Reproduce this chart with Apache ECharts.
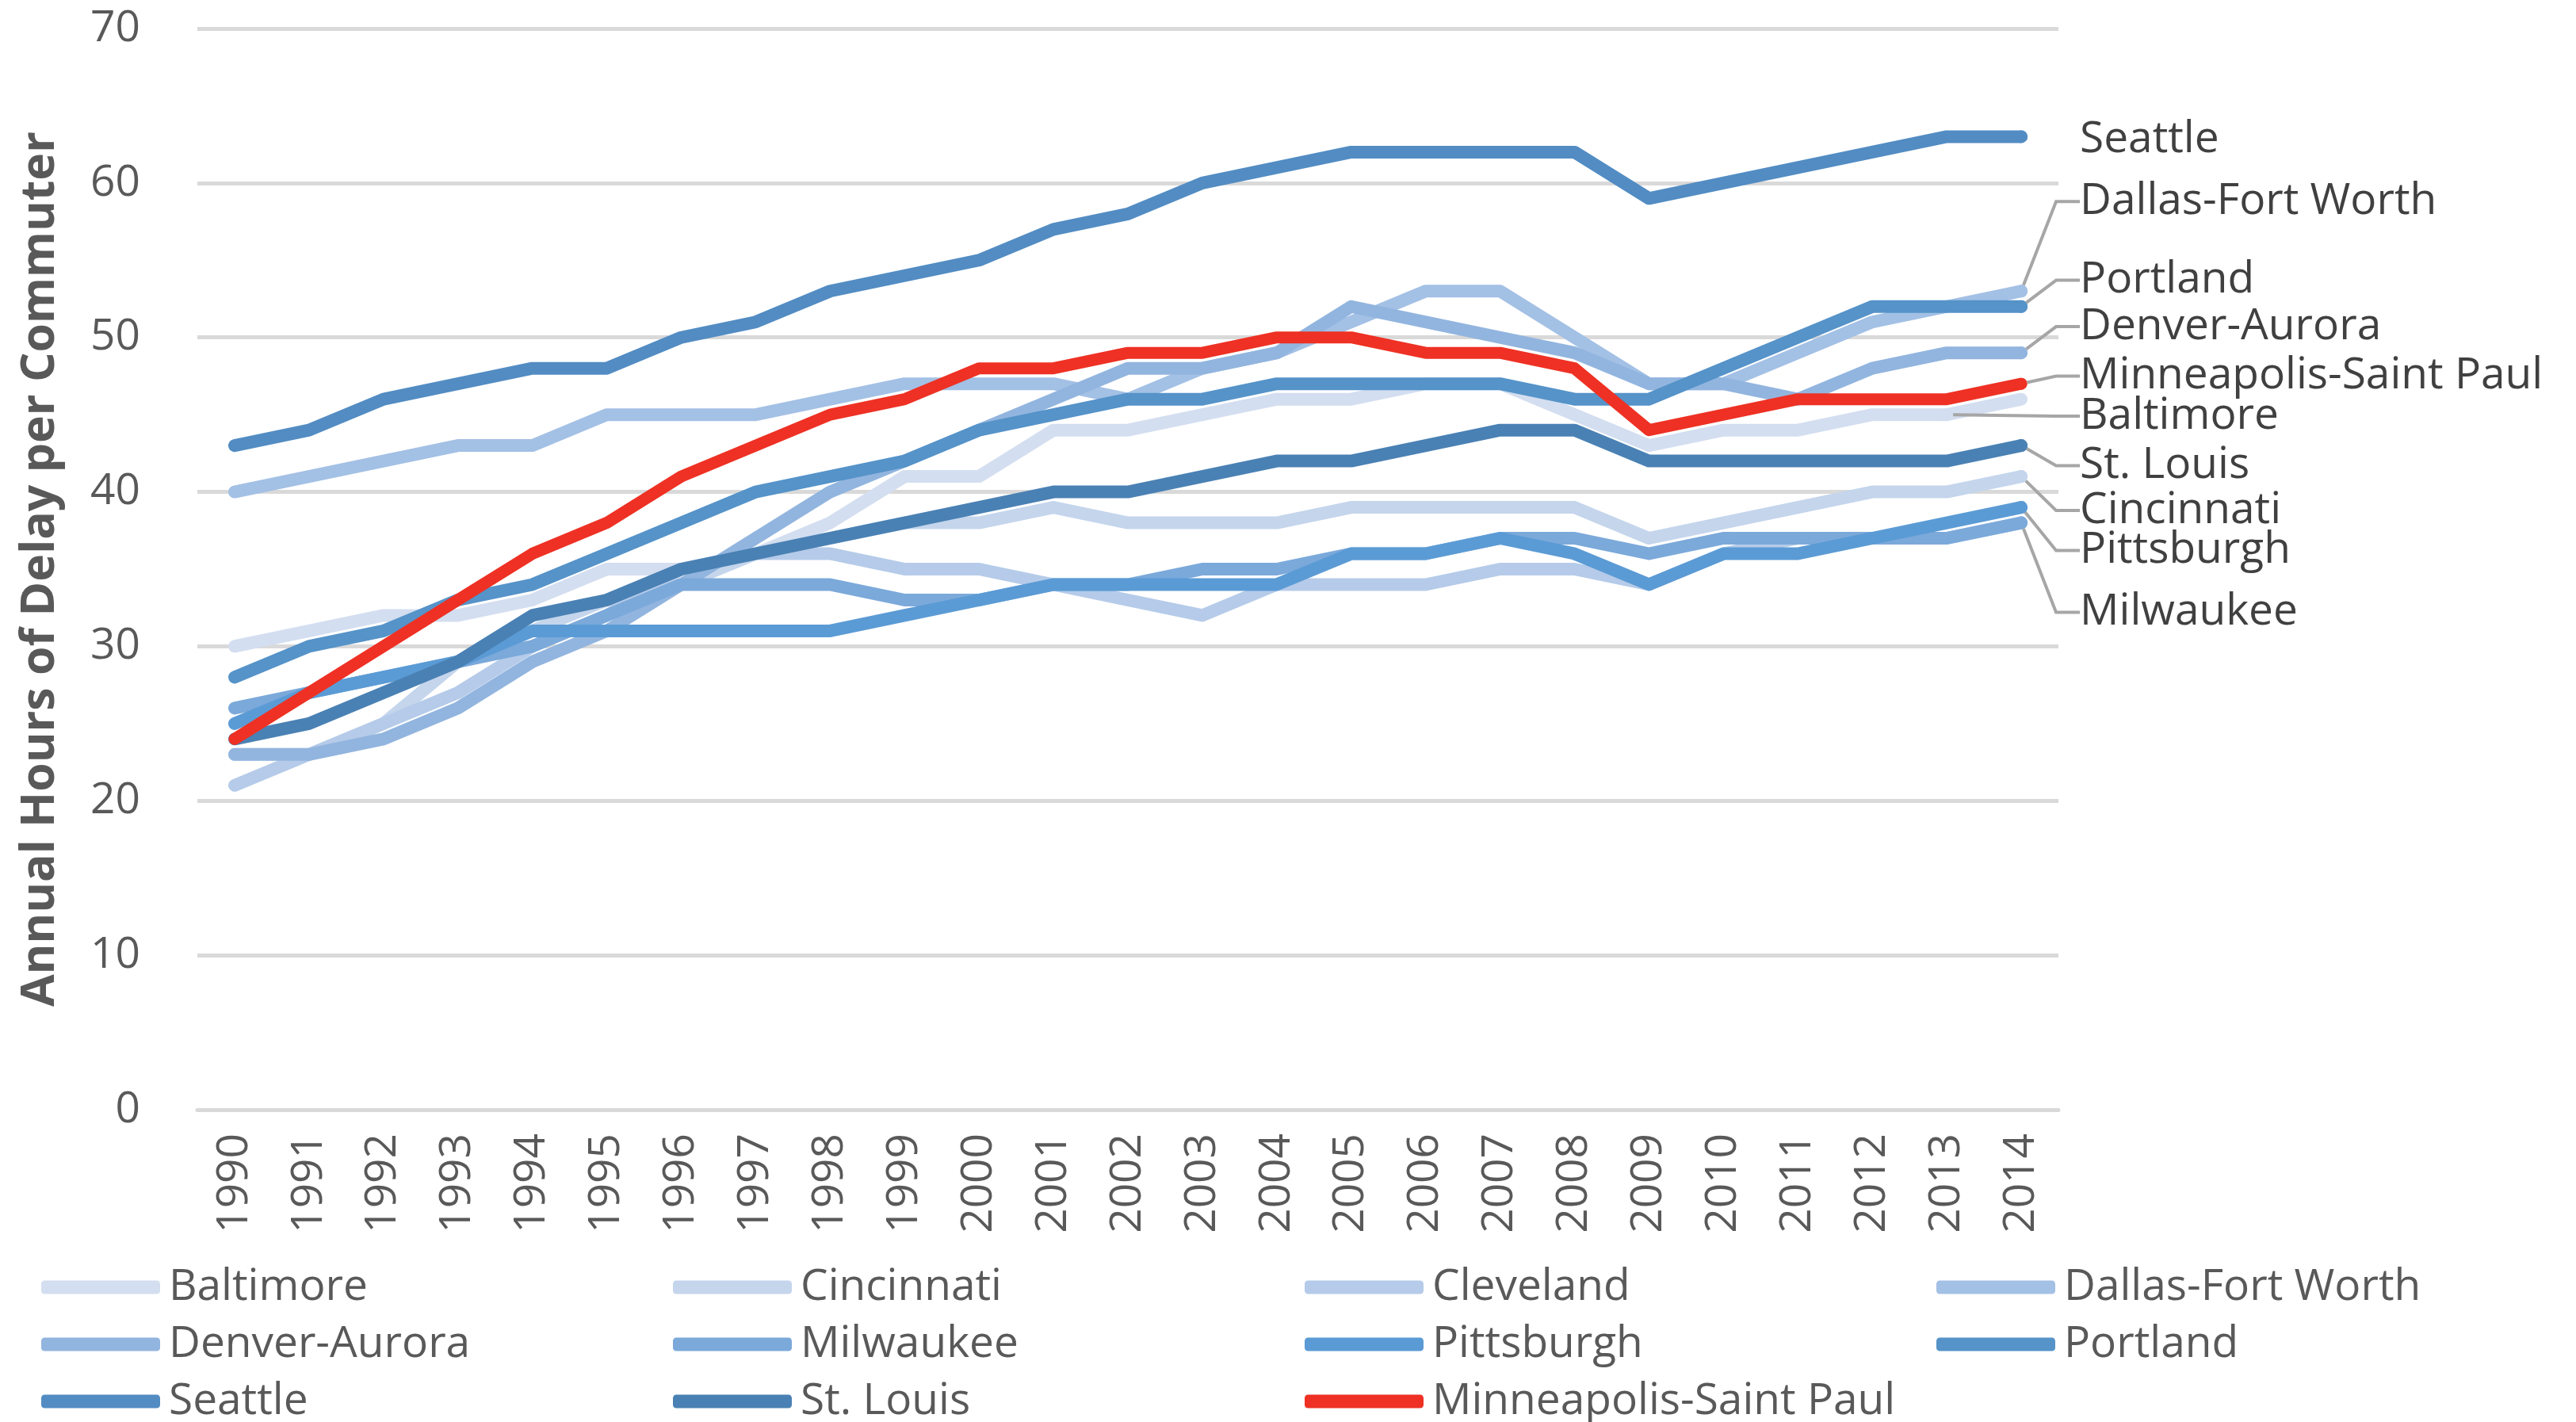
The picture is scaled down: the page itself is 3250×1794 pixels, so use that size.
<!DOCTYPE html>
<html>
<head>
<meta charset="utf-8">
<script src="https://cdn.jsdelivr.net/npm/echarts@6/dist/echarts.min.js"></script>
<style>
  html, body { margin: 0; padding: 0; background: #ffffff; }
  #chart { width: 3250px; height: 1794px; }
</style>
</head>
<body>
<div id="chart"></div>
<script>
// years on the category axis
const years = ['1990', '1991', '1992', '1993', '1994', '1995', '1996', '1997', '1998', '1999',
  '2000', '2001', '2002', '2003', '2004', '2005', '2006', '2007', '2008', '2009',
  '2010', '2011', '2012', '2013', '2014'];

// annual hours of delay per commuter
const baltimore   = [30, 31, 32, 32, 33, 35, 35, 36, 38, 41, 41, 44, 44, 45, 46, 46, 47, 47, 45, 43, 44, 44, 45, 45, 46];
const cincinnati  = [23, 23, 25, 29, 31, 33, 34, 36, 37, 38, 38, 39, 38, 38, 38, 39, 39, 39, 39, 37, 38, 39, 40, 40, 41];
const cleveland   = [21, 23, 25, 27, 30, 32, 35, 36, 36, 35, 35, 34, 33, 32, 34, 34, 34, 35, 35, 34, 36, 37, 37, 37, 38];
const dallas      = [40, 41, 42, 43, 43, 45, 45, 45, 46, 47, 47, 47, 46, 48, 49, 51, 53, 53, 50, 47, 47, 49, 51, 52, 53];
const denver      = [23, 23, 24, 26, 29, 31, 34, 37, 40, 42, 44, 46, 48, 48, 49, 52, 51, 50, 49, 47, 47, 46, 48, 49, 49];
const milwaukee   = [26, 27, 28, 29, 30, 32, 34, 34, 34, 33, 33, 34, 34, 35, 35, 36, 36, 37, 37, 36, 37, 37, 37, 37, 38];
const pittsburgh  = [25, 27, 28, 29, 31, 31, 31, 31, 31, 32, 33, 34, 34, 34, 34, 36, 36, 37, 36, 34, 36, 36, 37, 38, 39];
const portland    = [28, 30, 31, 33, 34, 36, 38, 40, 41, 42, 44, 45, 46, 46, 47, 47, 47, 47, 46, 46, 48, 50, 52, 52, 52];
const seattle     = [43, 44, 46, 47, 48, 48, 50, 51, 53, 54, 55, 57, 58, 60, 61, 62, 62, 62, 62, 59, 60, 61, 62, 63, 63];
const stLouis     = [24, 25, 27, 29, 32, 33, 35, 36, 37, 38, 39, 40, 40, 41, 42, 42, 43, 44, 44, 42, 42, 42, 42, 42, 43];
const minneapolis = [24, 27, 30, 33, 36, 38, 41, 43, 45, 46, 48, 48, 49, 49, 50, 50, 49, 49, 48, 44, 45, 46, 46, 46, 47];

const yTicks = [0, 10, 20, 30, 40, 50, 60, 70];

const cities = [
  { name: 'Baltimore', data: baltimore, color: '#D3DEF0' },
  { name: 'Cincinnati', data: cincinnati, color: '#C4D5EC' },
  { name: 'Cleveland', data: cleveland, color: '#B5CBE9' },
  { name: 'Dallas-Fort Worth', data: dallas, color: '#A3C0E5' },
  { name: 'Denver-Aurora', data: denver, color: '#92B5DF' },
  { name: 'Milwaukee', data: milwaukee, color: '#7BA9DA' },
  { name: 'Pittsburgh', data: pittsburgh, color: '#5B9BD5' },
  { name: 'Portland', data: portland, color: '#5593C9' },
  { name: 'Seattle', data: seattle, color: '#528CC3' },
  { name: 'St. Louis', data: stLouis, color: '#4A81B4' },
  { name: 'Minneapolis-Saint Paul', data: minneapolis, color: '#EE3124' }
];

// where each direct label sits (axis value of its centre) and which point it hangs on
const labelSpots = {
  'Seattle':                { at: 62.8, idx: 24, line: false },
  'Dallas-Fort Worth':      { at: 58.8, idx: 24, line: true },
  'Portland':               { at: 53.7, idx: 24, line: true },
  'Denver-Aurora':          { at: 50.7, idx: 24, line: true },
  'Minneapolis-Saint Paul': { at: 47.5, idx: 24, line: true },
  'Baltimore':              { at: 44.9, idx: 23, line: true },
  'St. Louis':              { at: 41.7, idx: 24, line: true },
  'Cincinnati':             { at: 38.8, idx: 24, line: true },
  'Pittsburgh':             { at: 36.2, idx: 24, line: true },
  'Milwaukee':              { at: 32.2, idx: 24, line: true }
};

const FONT = '"Open Sans", "Noto Sans", sans-serif';
const chart = echarts.init(document.getElementById('chart'), null, { renderer: 'canvas' });

const buildSeries = () => cities.map(c => {
  const spot = labelSpots[c.name];
  const width = c.name === 'Minneapolis-Saint Paul' ? 15 : 16;
  return {
    name: c.name,
    type: 'line',
    data: c.data.map((v, i) => {
      if (spot && i === spot.idx) {
        return { value: v, symbol: 'circle', symbolSize: width, label: { show: true } };
      }
      return v;
    }),
    symbol: 'none',
    showSymbol: true,
    showAllSymbol: true,
    itemStyle: { color: c.color },
    lineStyle: { color: c.color, width: width, cap: 'round', join: 'round' },
    emphasis: { disabled: true },
    label: {
      show: false,
      formatter: c.name,
      fontFamily: FONT,
      fontSize: 55,
      color: '#404040',
      padding: [0, 0, 0, 25]
    },
    labelLine: {
      show: spot ? spot.line : false,
      length2: 30,
      minTurnAngle: 30,
      lineStyle: { color: '#A6A6A6', width: 4 }
    },
    labelLayout: spot ? function () {
      const x = chart.convertToPixel({ xAxisIndex: 0 }, years[years.length - 1]) + 49;
      const y = chart.convertToPixel({ yAxisIndex: 0 }, spot.at);
      return { x: x, y: y, align: 'left', verticalAlign: 'middle' };
    } : undefined,
    z: 2
  };
});

const option = {
  backgroundColor: '#ffffff',
  animation: false,
  grid: {
    left: 249,
    right: 653,
    top: 36,
    bottom: 394,
    containLabel: false
  },
  xAxis: {
    type: 'category',
    data: years,
    boundaryGap: true,
    axisLine: { show: true, lineStyle: { color: '#D9D9D9', width: 5 } },
    axisTick: { show: false },
    axisLabel: {
      rotate: 90,
      margin: 30,
      fontFamily: FONT,
      fontSize: 55,
      color: '#595959',
      interval: 0
    },
    splitLine: { show: false }
  },
  yAxis: {
    type: 'value',
    min: yTicks[0],
    max: yTicks[yTicks.length - 1],
    interval: 10,
    name: 'Annual Hours of Delay per Commuter',
    nameLocation: 'middle',
    nameGap: 168,
    nameRotate: 90,
    nameTextStyle: {
      fontFamily: FONT,
      fontSize: 59,
      fontWeight: 'bold',
      color: '#595959'
    },
    axisLine: { show: false },
    axisTick: { show: false },
    axisLabel: {
      margin: 72,
      fontFamily: FONT,
      fontSize: 55,
      color: '#595959'
    },
    splitLine: { show: true, lineStyle: { color: '#D9D9D9', width: 5 } }
  },
  legend: {
    show: true,
    left: 52,
    top: 1588,
    width: 3250,
    orient: 'horizontal',
    itemGap: 0,
    itemWidth: 150,
    itemHeight: 17,
    padding: 0,
    icon: 'roundRect',
    selectedMode: false,
    data: cities.map(c => c.name),
    textStyle: {
      fontFamily: FONT,
      fontSize: 55,
      color: '#595959',
      width: 636,
      lineHeight: 72,
      padding: [0, 0, 0, 6]
    }
  },
  series: buildSeries()
};

chart.setOption(option);
// second pass so label positions are taken from the finished axes
chart.setOption({ series: buildSeries() });
</script>
</body>
</html>
